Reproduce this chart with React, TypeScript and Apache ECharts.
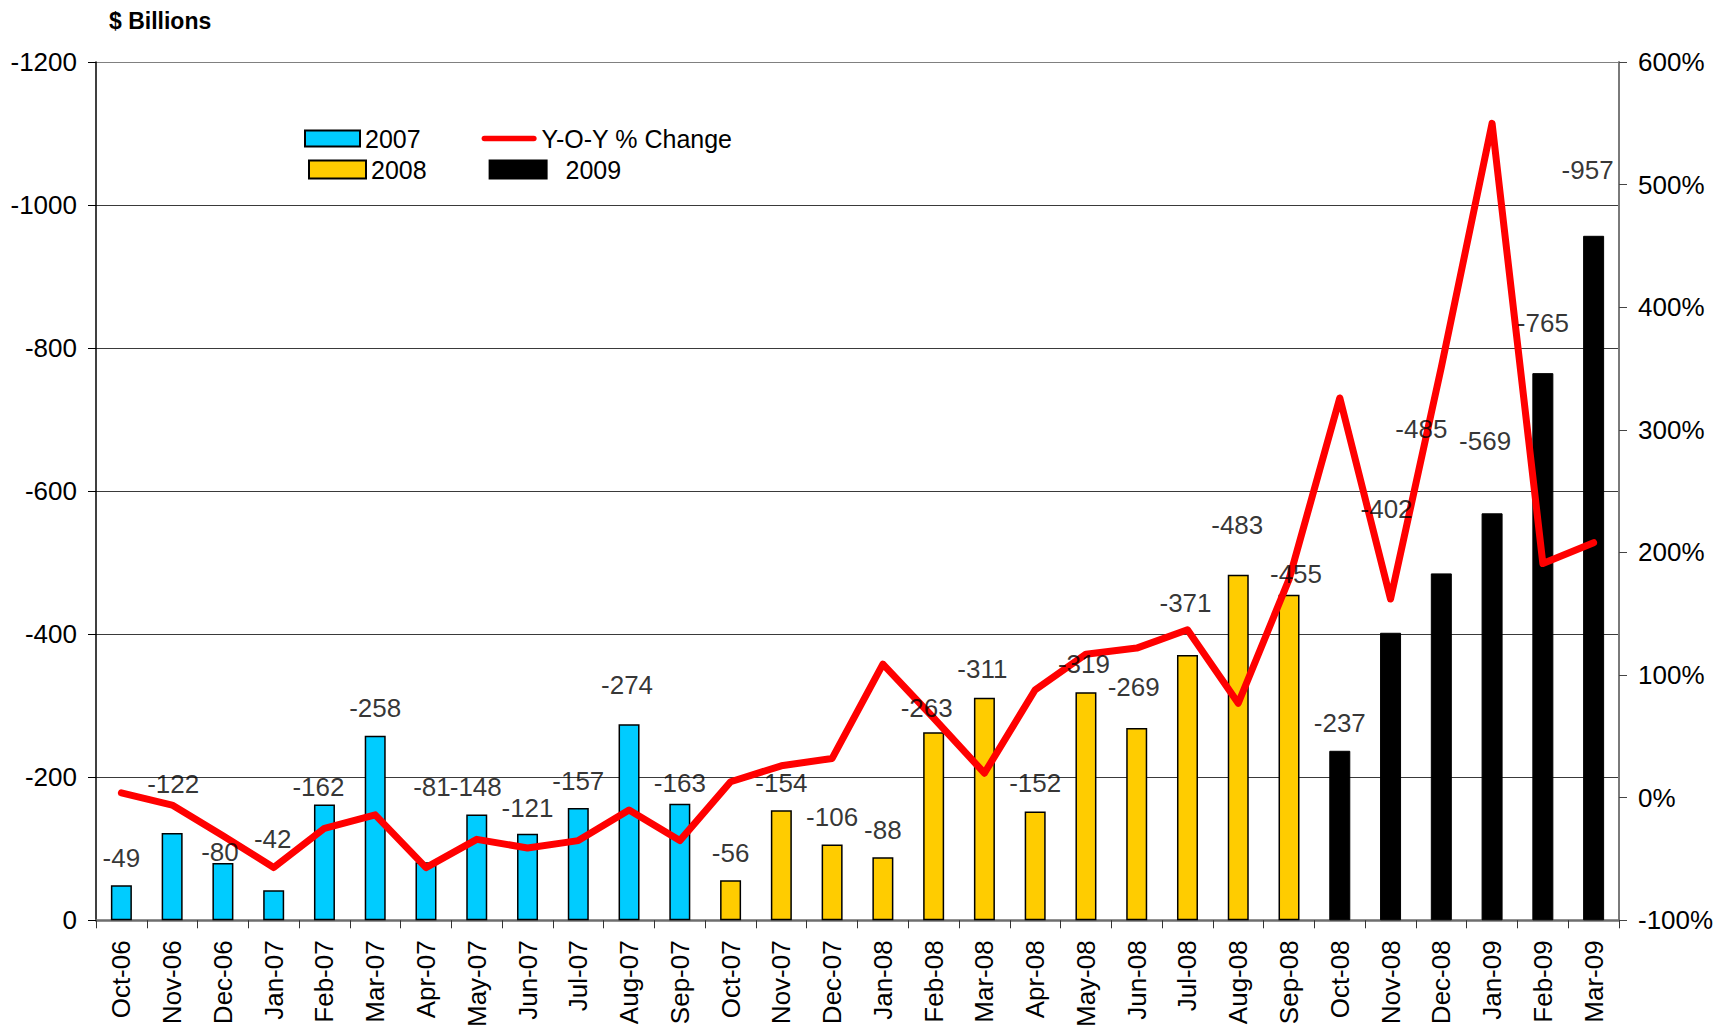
import React, { useEffect, useRef } from 'react';
import * as echarts from 'echarts';

const FONT = 'Arial, "Liberation Sans", Helvetica, sans-serif';

const months = [
  'Oct-06', 'Nov-06', 'Dec-06', 'Jan-07', 'Feb-07', 'Mar-07', 'Apr-07', 'May-07', 'Jun-07', 'Jul-07',
  'Aug-07', 'Sep-07', 'Oct-07', 'Nov-07', 'Dec-07', 'Jan-08', 'Feb-08', 'Mar-08', 'Apr-08', 'May-08',
  'Jun-08', 'Jul-08', 'Aug-08', 'Sep-08', 'Oct-08', 'Nov-08', 'Dec-08', 'Jan-09', 'Feb-09', 'Mar-09',
];

// Deficit ($ billions) by fiscal year
const deficit2007 = [-49, -122, -80, -42, -162, -258, -81, -148, -121, -157, -274, -163];
const deficit2008 = [-56, -154, -106, -88, -263, -311, -152, -319, -269, -371, -483, -455];
const deficit2009 = [-237, -402, -485, -569, -765, -957];

// Year-over-year % change
const yoyChange = [
  4, -6, -31, -57, -25, -14, -57, -34, -41, -35, -10, -35, 13, 26, 32,
  109, 65, 20, 88, 117, 122, 137, 77, 178, 326, 162, 351, 550, 191, 208,
];

// Left and right axis settings
const leftMin = -1200;
const leftMax = 0;
const leftStep = 200;
const rightMin = -100;
const rightMax = 600;
const rightStep = 100;

// Manual nudges [dx, dy] in px for value labels (style only)
const labelNudges: [number, number][] = [
  [0, 0], [1, -22], [-3, 16], [-1, -24], [-6, 10], [0, 0], [6, -48], [-1, 0], [0, 2], [0, 0],
  [-2, -12], [0, 7], [0, 0], [0, 0], [0, 0], [0, 0], [-7, 3], [-2, -1], [0, -1], [-2, -1],
  [-3, -13], [-2, -24], [-1, -22], [7, 7], [0, 0], [-4, -96], [-20, -117], [-7, -45], [0, -23], [-6, -38],
];

const startIndex2008 = deficit2007.length;
const startIndex2009 = deficit2007.length + deficit2008.length;

function placeYear(values: number[], start: number): (number | string)[] {
  return months.map((_, i) => (i >= start && i < start + values.length ? values[i - start] : '-'));
}

const allDeficits = [...deficit2007, ...deficit2008, ...deficit2009];

const LINE_ICON = 'path://M3,0 L56,0 A3,3 0 0 1 56,6 L3,6 A3,3 0 0 1 3,0 Z';

export default function App() {
  const ref = useRef<HTMLDivElement>(null);

  useEffect(() => {
    document.body.style.margin = '0';
    if (!ref.current) return;
    const chart = echarts.init(ref.current, undefined, { renderer: 'svg' });

    const gridColors = ['#808080', '#3a3a3a', '#3a3a3a', '#3a3a3a', '#3a3a3a', '#3a3a3a', '#3a3a3a'];

    const option: any = {
      animation: false,
      backgroundColor: '#ffffff',
      textStyle: { fontFamily: FONT },
      title: {
        text: '$ Billions',
        left: 104,
        top: 4,
        textStyle: { fontSize: 23, fontWeight: 'bold', color: '#000', fontFamily: FONT },
      },
      legend: [
        {
          data: [
            { name: '2007', icon: 'rect' },
            { name: 'Y-O-Y % Change', icon: LINE_ICON },
          ],
          left: 299,
          top: 121,
          itemWidth: 55,
          itemHeight: 16,
          itemGap: 61,
          selectedMode: false,
          textStyle: { fontSize: 25, color: '#000', fontFamily: FONT },
        },
        {
          data: [{ name: '2008', icon: 'rect' }, { name: '2009', icon: 'rect' }],
          left: 303,
          top: 152,
          itemWidth: 57,
          itemHeight: 18,
          itemGap: 62,
          selectedMode: false,
          formatter: (name: string) => (name === '2009' ? '  ' + name : name),
          textStyle: { fontSize: 25, color: '#000', fontFamily: FONT },
        },
      ],
      grid: { left: 96, right: 100, top: 62, bottom: 108, containLabel: false },
      xAxis: {
        type: 'category',
        data: months,
        boundaryGap: true,
        axisLine: { show: true, lineStyle: { color: '#6e6e6e', width: 2.5 } },
        axisTick: { show: true, length: 8, lineStyle: { color: '#333', width: 1 } },
        axisLabel: { rotate: 90, fontSize: 26, color: '#000', margin: 20, interval: 0, fontFamily: FONT },
        splitLine: { show: false },
      },
      yAxis: [
        {
          type: 'value',
          inverse: true,
          min: leftMin,
          max: leftMax,
          interval: leftStep,
          position: 'left',
          axisLine: { show: true, lineStyle: { color: '#000', width: 1.5 } },
          axisTick: { show: true, length: 8, lineStyle: { color: '#000' } },
          axisLabel: {
            fontSize: 26,
            color: '#000',
            margin: 19,
            fontFamily: FONT,
            formatter: (v: number) => String(v),
          },
          splitLine: { show: true, lineStyle: { color: gridColors, width: 1.2 } },
        },
        {
          type: 'value',
          min: rightMin,
          max: rightMax,
          interval: rightStep,
          position: 'right',
          axisLine: { show: true, lineStyle: { color: '#7a7a7a', width: 2 } },
          axisTick: { show: true, length: 8, lineStyle: { color: '#444' } },
          axisLabel: { formatter: '{value}%', fontSize: 26, color: '#000', margin: 19, fontFamily: FONT },
          splitLine: { show: false },
        },
      ],
      series: [
        {
          name: '2007',
          type: 'bar',
          stack: 'deficit',
          barWidth: 21,
          data: placeYear(deficit2007, 0),
          itemStyle: { color: '#00CCFF', borderColor: '#000', borderWidth: 1.5 },
          z: 2,
        },
        {
          name: '2008',
          type: 'bar',
          stack: 'deficit',
          barWidth: 21,
          data: placeYear(deficit2008, startIndex2008),
          itemStyle: { color: '#FFCC00', borderColor: '#000', borderWidth: 1.5 },
          z: 2,
        },
        {
          name: '2009',
          type: 'bar',
          stack: 'deficit',
          barWidth: 21,
          data: placeYear(deficit2009, startIndex2009),
          itemStyle: { color: '#000000', borderColor: '#000', borderWidth: 1 },
          z: 2,
        },
        {
          name: 'Y-O-Y % Change',
          type: 'line',
          yAxisIndex: 1,
          data: yoyChange,
          symbol: 'none',
          showSymbol: false,
          lineStyle: { color: '#FF0000', width: 7, cap: 'round', join: 'round' },
          itemStyle: { color: '#FF0000' },
          z: 3,
        },
        {
          name: 'values',
          type: 'scatter',
          yAxisIndex: 0,
          symbolSize: 1,
          silent: true,
          itemStyle: { color: 'rgba(0,0,0,0)' },
          data: allDeficits.map((v, i) => ({ value: v, label: { offset: labelNudges[i] } })),
          label: {
            show: true,
            position: 'top',
            distance: 14,
            fontSize: 26,
            color: '#000',
            fontFamily: FONT,
            formatter: (p: any) => String(p.value),
          },
          z: 4,
        },
      ],
    };

    chart.setOption(option);
    return () => {
      chart.dispose();
    };
  }, []);

  return <div ref={ref} style={{ width: 1719, height: 1030 }} />;
}
